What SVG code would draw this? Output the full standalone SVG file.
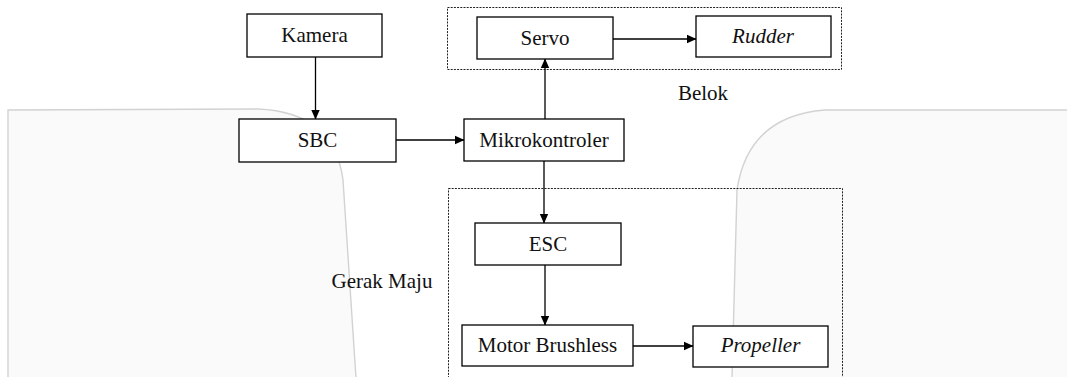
<svg xmlns="http://www.w3.org/2000/svg" width="1067" height="377" viewBox="0 0 1067 377">
<defs>
<style>
.bg{fill:#fafafa;stroke:#d2d2d2;stroke-width:1.4}
.box{fill:#fff;stroke:#000;stroke-width:1.3}
.dash{fill:none;stroke:#222;stroke-width:1;stroke-dasharray:2 1.2}
.t{font-family:"Liberation Serif","Times New Roman",serif;font-size:21px;fill:#111;text-anchor:middle}
.i{font-style:italic}
.ln{fill:none;stroke:#000;stroke-width:1.3;marker-end:url(#ah)}
</style>
<marker id="ah" markerWidth="10" markerHeight="10" refX="9" refY="5" orient="auto" markerUnits="userSpaceOnUse">
<path d="M0,0.8 L9.5,5 L0,9.2 Z" fill="#000"/>
</marker>
</defs>
<rect width="1067" height="377" fill="#fff"/>
<g id="background">
<path class="bg" d="M8,378 L8,110 L258,109 Q334,112 343,180 L356,378 Z"/>
<path class="bg" d="M1068,110 L825,110 Q748,116 737,190 L732,378 L1068,378 Z"/>
</g>
<g id="group-belok">
<rect class="dash" x="447.5" y="7.5" width="394" height="62"/>
<text class="t" x="703" y="100">Belok</text>
</g>
<g id="group-gerak-maju">
<rect class="dash" x="448.5" y="188.5" width="394" height="200"/>
<text class="t" x="382" y="288">Gerak Maju</text>
</g>
<g id="connectors">
<path class="ln" d="M315.5,57 L315.5,119"/>
<path class="ln" d="M396,140 L464,140"/>
<path class="ln" d="M545,119 L545,59"/>
<path class="ln" d="M613,39 L696,39"/>
<path class="ln" d="M544,161 L544,223"/>
<path class="ln" d="M545,265 L545,325"/>
<path class="ln" d="M633,346 L693,346"/>
</g>
<g id="node-kamera">
<rect class="box" x="247" y="14" width="135" height="43"/>
<text class="t" x="314.5" y="42">Kamera</text>
</g>
<g id="node-sbc">
<rect class="box" x="239" y="119" width="157" height="43"/>
<text class="t" x="317.5" y="147">SBC</text>
</g>
<g id="node-mikrokontroler">
<rect class="box" x="464" y="119" width="160" height="42"/>
<text class="t" x="544" y="147">Mikrokontroler</text>
</g>
<g id="node-servo">
<rect class="box" x="477" y="17" width="136" height="42"/>
<text class="t" x="545" y="45">Servo</text>
</g>
<g id="node-rudder">
<rect class="box" x="696" y="16" width="135" height="41"/>
<text class="t i" x="763" y="43">Rudder</text>
</g>
<g id="node-esc">
<rect class="box" x="475" y="223" width="146" height="42"/>
<text class="t" x="548" y="251">ESC</text>
</g>
<g id="node-motor-brushless">
<rect class="box" x="462" y="325" width="171" height="41"/>
<text class="t" x="547.5" y="352">Motor Brushless</text>
</g>
<g id="node-propeller">
<rect class="box" x="693" y="326" width="135" height="41"/>
<text class="t i" x="760.5" y="352">Propeller</text>
</g>
</svg>
